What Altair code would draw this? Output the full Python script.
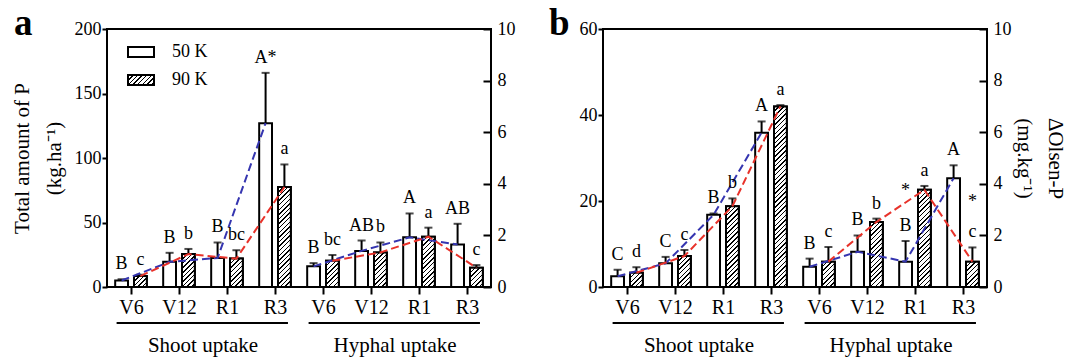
import json
import altair as alt

# ---------------- data ----------------
stages = ["V6", "V12", "R1", "R3"]
group_names = ["Shoot uptake", "Hyphal uptake"]
series = ["50 K", "90 K"]

# panel a: total amount of P (kg.ha-1)
a_50 = [5, 19.5, 22.5, 127, 16, 28, 38.5, 33]
a_50_err = [1, 7, 12, 39, 2.5, 8, 18.5, 16]
a_90 = [8.5, 25.5, 22, 77.5, 20.3, 26.8, 39, 15]
a_90_err = [1, 4, 6.5, 17.5, 4.5, 7.7, 7, 2]
a_50_lab = ["B", "B", "B", "A*", "B", "AB", "A", "AB"]
a_90_lab = ["c", "b", "bc", "a", "bc", "b", "a", "c"]

# panel b: delta Olsen-P (mg.kg-1)
b_50 = [2.5, 5.5, 16.8, 35.9, 4.7, 8.2, 5.9, 25.3]
b_50_err = [1.5, 1.5, 0.3, 2.6, 1.9, 3.8, 4.8, 3.0]
b_90 = [3.3, 7.2, 18.8, 42.0, 5.9, 15.1, 22.6, 5.9]
b_90_err = [1.3, 1.4, 1.8, 0.3, 3.4, 0.8, 0.9, 3.3]
b_50_lab = ["C", "C", "B", "A", "B", "B", "B", "A"]
b_90_lab = ["d", "c", "b", "a", "c", "b", "a", "c"]
b_star_pos = [6, 7]            # category index (Hyphal R1, Hyphal R3)
b_star_series = ["50 K", "90 K"]
b_star_y = [21.2, 18.6]

right_labels = [0, 2, 4, 6, 8, 10]

# ---------------- style ----------------
FONT = "Liberation Serif"
W = 384
H = 258
BLUE = "#3535b0"
RED = "#e8322a"
N = len(stages) * len(group_names)
BAR_OFF = 0.196     # bar centre offset from category centre (category units)
BAR_HALF = 0.1335   # half bar width (category units)
bar_w = 2 * BAR_HALF * W / N


def hatch(w, h, period=4.6, lw=1.5):
    tot = w + h
    stops = [{"offset": 0, "color": "white"}]
    s = 0.0
    while s < tot:
        a0 = round(s / tot, 5)
        a1 = round(min((s + lw) / tot, 1), 5)
        stops += [
            {"offset": a0, "color": "white"},
            {"offset": a0, "color": "black"},
            {"offset": a1, "color": "black"},
            {"offset": a1, "color": "white"},
        ]
        s += period
    k = (w + h) / (w * w + h * h)
    return {"gradient": "linear", "x1": 0, "y1": 0,
            "x2": round(w * k, 5), "y2": round(h * k, 5), "stops": stops}


LEG_W, LEG_H = 26, 10
legend_grad_expr = json.dumps(hatch(LEG_W, LEG_H))
stage_expr = json.dumps(stages)

HIDDEN = dict(labels=False, ticks=False, domain=False, grid=False, title=None)


def panel(v50, e50, v90, e90, l50, l90, ymax, yvals, stars, letter,
          letter_dx, left_title, right_title):
    rows = []
    for i in range(N):
        for side, s, vals, errs, labs in ((-1, series[0], v50, e50, l50),
                                          (1, series[1], v90, e90, l90)):
            r = {"idx": i, "grp": i // len(stages), "side": side, "K": s,
                 "value": vals[i], "err": errs[i], "lab": labs[i]}
            if side == 1:
                r["grad"] = hatch(bar_w, vals[i] * H / ymax)
            rows.append(r)

    base = alt.Chart(alt.Data(values=rows)).transform_calculate(
        xc=f"datum.idx + datum.side * {BAR_OFF}",
        xl=f"datum.idx + datum.side * {BAR_OFF} - {BAR_HALF}",
        xr=f"datum.idx + datum.side * {BAR_OFF} + {BAR_HALF}",
        top="datum.value + datum.err",
        zero="0")

    xscale = alt.Scale(domain=[-0.5, N - 0.5], nice=False, zero=False)
    yscale = alt.Scale(domain=[0, ymax], nice=False)
    x_axis = alt.X("xl:Q", scale=xscale, title=None,
                   axis=alt.Axis(orient="bottom", values=list(range(N)),
                                 labelExpr=f"{stage_expr}[datum.value % {len(stages)}]",
                                 labels=True, ticks=True,
                                 labelAngle=0, tickSize=7, tickWidth=2, domain=False,
                                 grid=False, labelPadding=3, labelFontSize=20,
                                 labelFlush=False, labelOverlap=False))

    def xh(field):
        return alt.X(field, scale=xscale, axis=alt.Axis(orient="top", **HIDDEN))

    def yh(field):
        return alt.Y(field, scale=yscale, stack=None, axis=alt.Axis(**HIDDEN))

    left_kw = dict(values=yvals, tickSize=5, tickWidth=2, domain=False,
                   labelPadding=1, labelFontSize=18, grid=False, orient="left")
    if left_title:
        left_kw.update(title=left_title, titleFontSize=21, titleFontWeight="normal",
                       titlePadding=10, titleLineHeight=32)
    else:
        left_kw.update(title=None)
    right_vals = [v * ymax / right_labels[-1] for v in right_labels]
    right_kw = dict(values=right_vals, orient="right", ticks=False, tickSize=0,
                    domain=False, grid=False, labelPadding=6, labelFontSize=18,
                    labelExpr=f"format(datum.value * {right_labels[-1]} / {ymax}, 'd')")
    if right_title:
        right_kw.update(title=right_title, titleAngle=90, titleFontSize=21,
                        titleFontWeight="normal", titlePadding=2,
                        titleLineHeight=31)
    else:
        right_kw.update(title=None)
    inward_kw = dict(values=right_vals, orient="left", offset=-W, labels=False,
                     domain=False, grid=False, tickSize=8, tickWidth=2, title=None)

    legend = alt.Legend(orient="none", legendX=20, legendY=9, title=None,
                        symbolType=f"M-1,-{LEG_H/LEG_W:.4f}H1V{LEG_H/LEG_W:.4f}H-1Z",
                        symbolSize=LEG_W * LEG_W, symbolStrokeColor="black",
                        symbolStrokeWidth=2, labelFontSize=18, labelFont=FONT,
                        labelOffset=17, rowPadding=5, padding=0)
    bars = base.mark_bar(stroke="black", strokeWidth=2).encode(
        x=x_axis, x2="xr:Q",
        y=alt.Y("value:Q", scale=yscale, stack=None, axis=alt.Axis(**left_kw)),
        y2="zero:Q",
        fill=alt.Fill("K:N", scale=alt.Scale(domain=series,
                                             range=["white", alt.ExprRef(legend_grad_expr)]),
                      legend=legend))
    hatched = base.transform_filter(alt.datum.side == 1).mark_bar(
        stroke="black", strokeWidth=2).encode(
        x=xh("xl:Q"), x2="xr:Q",
        y=alt.Y("value:Q", scale=yscale, stack=None, axis=alt.Axis(**right_kw)),
        y2="zero:Q",
        fill=alt.Fill("grad:N", scale=None, legend=None))
    err = base.mark_rule(color="black", strokeWidth=2).encode(
        x=xh("xc:Q"), y=yh("value:Q"), y2="top:Q")
    caps = base.mark_tick(color="black", thickness=2, size=8,
                          orient="horizontal").encode(
        x=xh("xc:Q"),
        y=alt.Y("top:Q", scale=yscale, axis=alt.Axis(**inward_kw)))
    letters = base.mark_text(font=FONT, fontSize=18, baseline="alphabetic",
                             dy=-10, color="black").encode(
        x=xh("xc:Q"), y=yh("top:Q"), text="lab:N")
    line50 = base.transform_filter(alt.datum.side == -1).mark_line(
        strokeWidth=2, strokeDash=[8, 4], color=BLUE).encode(
        x=xh("xc:Q"), y=yh("value:Q"), detail="grp:N")
    line90 = base.transform_filter(alt.datum.side == 1).mark_line(
        strokeWidth=2, strokeDash=[8, 4], color=RED).encode(
        x=xh("xc:Q"), y=yh("value:Q"), detail="grp:N")

    grows = [{"g": gi, "name": n} for gi, n in enumerate(group_names)]
    gbase = alt.Chart(alt.Data(values=grows)).transform_calculate(
        gs=f"datum.g * {len(stages)} - 0.3",
        ge=f"datum.g * {len(stages)} + {len(stages) - 1} + 0.27",
        gm=f"datum.g * {len(stages)} + {(len(stages) - 1) / 2}")
    grule = gbase.mark_rule(color="black", strokeWidth=2).encode(
        x=xh("gs:Q"), x2="ge:Q", y=alt.value(H + 36))
    gtext = gbase.mark_text(font=FONT, fontSize=21, baseline="alphabetic",
                            color="black").encode(
        x=xh("gm:Q"), y=alt.value(H + 65), text="name:N")
    plabel = alt.Chart(alt.Data(values=[{"t": letter}])).mark_text(
        font=FONT, fontSize=37, fontWeight="bold", align="left",
        baseline="alphabetic", color="black").encode(
        x=alt.value(letter_dx), y=alt.value(6), text="t:N")

    layers = [bars, hatched, err, caps, line50, line90, letters]
    if stars:
        srows = [{"idx": p, "side": -1 if s == series[0] else 1, "y": y, "lab": "*"}
                 for p, s, y in zip(*stars)]
        layers.append(alt.Chart(alt.Data(values=srows)).transform_calculate(
            xc=f"datum.idx + datum.side * {BAR_OFF}").mark_text(
            font=FONT, fontSize=18, baseline="alphabetic", color="black").encode(
            x=xh("xc:Q"), y=yh("y:Q"), text="lab:N"))
    layers += [grule, gtext, plabel]
    return alt.layer(*layers).properties(width=W, height=H)


pa = panel(a_50, a_50_err, a_90, a_90_err, a_50_lab, a_90_lab, 200,
           [0, 50, 100, 150, 200], None, "a", -93,
           ["Total amount of P", "(kg.ha\u207b\u00b9)"], None)
pb = panel(b_50, b_50_err, b_90, b_90_err, b_50_lab, b_90_lab, 60,
           [0, 20, 40, 60], (b_star_pos, b_star_series, b_star_y), "b", -54,
           None, ["\u0394Olsen-P", "(mg.kg\u207b\u00b9)"])

chart = alt.hconcat(pa, pb, spacing=32).properties(
    padding={"left": 2, "top": -4, "right": 0, "bottom": 0}
).configure_view(stroke="black", strokeWidth=2).configure_axis(
    labelFont=FONT, titleFont=FONT, labelColor="black", titleColor="black",
    tickColor="black", domainColor="black"
).configure_legend(labelFont=FONT)

chart.save("out.html", embed_options={"renderer": "svg", "actions": False})
